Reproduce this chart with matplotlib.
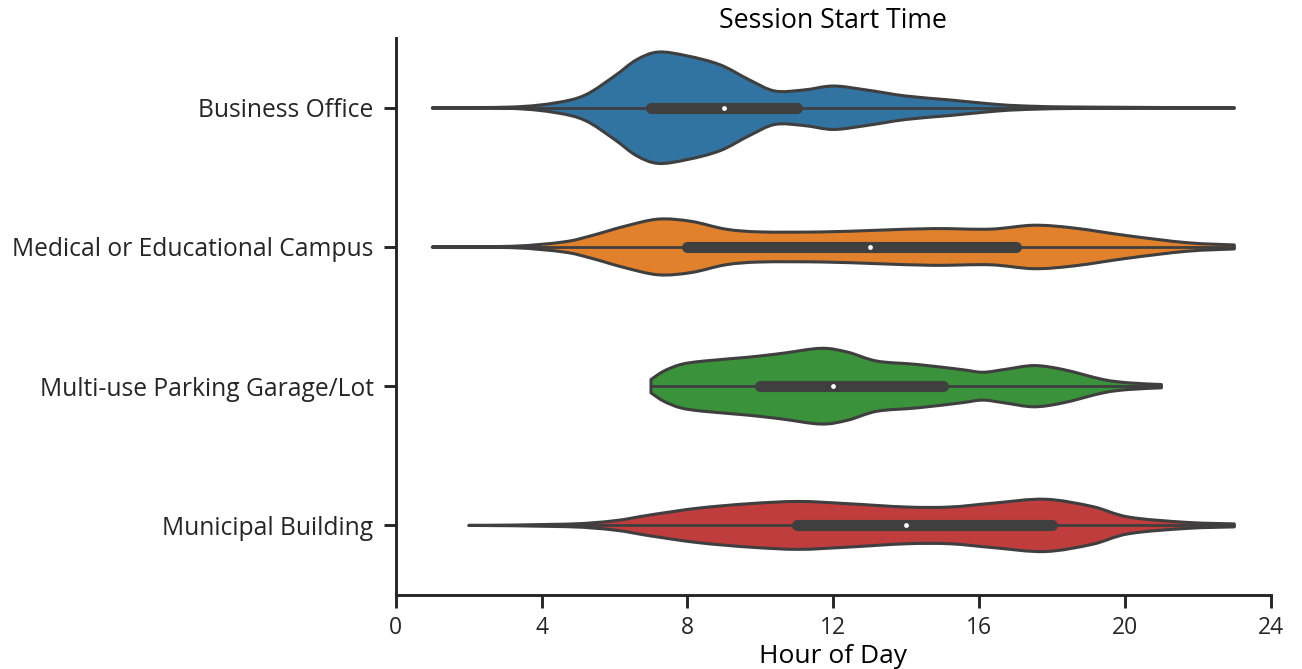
import numpy as np
import matplotlib.pyplot as plt
from matplotlib.path import Path
from matplotlib.patches import PathPatch

plt.rcParams['font.family'] = ['Open Sans', 'DejaVu Sans']

categories = ["Business Office", "Medical or Educational Campus",
              "Multi-use Parking Garage/Lot", "Municipal Building"]
colors = ["#3274a1", "#e1812c", "#3a923a", "#c03d3e"]
outline = "#3f3f3f"

# density profiles (hour, relative density; Business Office peak = 1)
office_hours = [1, 3.2, 4.4, 5.2, 6.0, 6.6, 7.2, 8.0, 8.9, 9.7, 10.4, 11.2, 12.0, 12.9, 14.0, 15.2, 16.3, 17.1, 18.6, 23]
office_dens = [0, 0.013, 0.09, 0.23, 0.57, 0.86, 1.0, 0.93, 0.77, 0.50, 0.30, 0.32, 0.39, 0.32, 0.21, 0.14, 0.07, 0.036, 0.013, 0]

campus_hours = [1, 3.2, 4.6, 5.35, 6.27, 7.2, 8.1, 9.05, 10.0, 11.7, 13.2, 14.75, 16.3, 17.5, 18.6, 20.1, 21.7, 23]
campus_dens = [0, 0.013, 0.09, 0.20, 0.37, 0.50, 0.46, 0.32, 0.27, 0.27, 0.30, 0.33, 0.32, 0.39, 0.34, 0.20, 0.077, 0.036]

garage_hours = [7.0, 7.35, 7.82, 8.43, 9.66, 10.6, 11.67, 12.4, 13.2, 14.3, 15.5, 16.1, 16.7, 17.5, 18.3, 19.4, 20.1, 21.0]
garage_dens = [0.12, 0.27, 0.39, 0.45, 0.52, 0.59, 0.68, 0.61, 0.45, 0.39, 0.30, 0.25, 0.30, 0.37, 0.30, 0.12, 0.06, 0.03]

municipal_hours = [2, 4.7, 6.0, 7.0, 8.3, 9.7, 11.05, 12.4, 14.0, 15.2, 16.4, 17.8, 19.1, 20.1, 21.7, 23]
municipal_dens = [0, 0.023, 0.084, 0.19, 0.31, 0.39, 0.43, 0.39, 0.33, 0.33, 0.40, 0.47, 0.34, 0.15, 0.054, 0.027]

profiles = [(office_hours, office_dens), (campus_hours, campus_dens),
            (garage_hours, garage_dens), (municipal_hours, municipal_dens)]

# box-plot statistics (hours)
data_min = [1, 1, 7, 2]
data_max = [23, 23, 21, 23]
q1 = [7, 8, 10, 11]
median = [9, 13, 12, 14]
q3 = [11, 17, 15, 18]


def smooth_curve(xs, ws):
    """Catmull-Rom through the read points, returned as cubic Bezier segments."""
    pts = np.column_stack([xs, ws]).astype(float)
    n = len(pts)
    verts = [pts[0]]
    codes = [Path.MOVETO]
    for i in range(n - 1):
        p0 = pts[max(i - 1, 0)]
        p1 = pts[i]
        p2 = pts[i + 1]
        p3 = pts[min(i + 2, n - 1)]
        c1 = p1 + (p2 - p0) / 6.0
        c2 = p2 - (p3 - p1) / 6.0
        c1[1] = max(c1[1], 0)
        c2[1] = max(c2[1], 0)
        verts += [c1, c2, p2]
        codes += [Path.CURVE4] * 3
    return np.array(verts), codes


fig = plt.figure(figsize=(13.02, 6.69), dpi=100)
ax = fig.add_axes([0.304, 0.1106, 0.672, 0.8324])

half = 0.4  # half width of the widest violin in category units
for i, (hours, dens) in enumerate(profiles):
    verts, codes = smooth_curve(hours, dens)
    upper = np.column_stack([verts[:, 0], i - verts[:, 1] * half])
    lower = np.column_stack([verts[::-1, 0], i + verts[::-1, 1] * half])
    all_verts = np.vstack([upper, lower[0:1], lower[1:], upper[0:1]])
    all_codes = (codes + [Path.LINETO] + [Path.CURVE4] * (len(lower) - 1)
                 + [Path.CLOSEPOLY])
    patch = PathPatch(Path(all_verts, all_codes), facecolor=colors[i],
                      edgecolor=outline, linewidth=2.2, joinstyle='round', zorder=1)
    ax.add_patch(patch)

    ax.plot([data_min[i], data_max[i]], [i, i], color=outline, lw=2.0,
            solid_capstyle='round', zorder=2)
    ax.plot([q1[i], q3[i]], [i, i], color=outline, lw=8,
            solid_capstyle='round', zorder=2)
    ax.scatter([median[i]], [i], s=12, color='white', zorder=3, linewidths=0)

ax.set_xlim(0, 24)
ax.set_ylim(3.5, -0.5)
ax.set_xticks(np.arange(0, 25, 4))
ax.set_yticks(range(len(categories)))
ax.set_yticklabels(categories)
ax.set_xlabel("Hour of Day", fontsize=19, labelpad=3)
ax.set_title("Session Start Time", fontsize=19.2, pad=7)

for side in ['top', 'right']:
    ax.spines[side].set_visible(False)
for side in ['left', 'bottom']:
    ax.spines[side].set_linewidth(2.1)
    ax.spines[side].set_color('#262626')
ax.tick_params(axis='y', labelsize=17.7, length=9, width=2.1,
               color='#262626', labelcolor='#262626', pad=7)
ax.tick_params(axis='x', labelsize=16.5, length=9, width=2.1,
               color='#262626', labelcolor='#262626', pad=6)

fig.savefig("out.png", dpi=100)
